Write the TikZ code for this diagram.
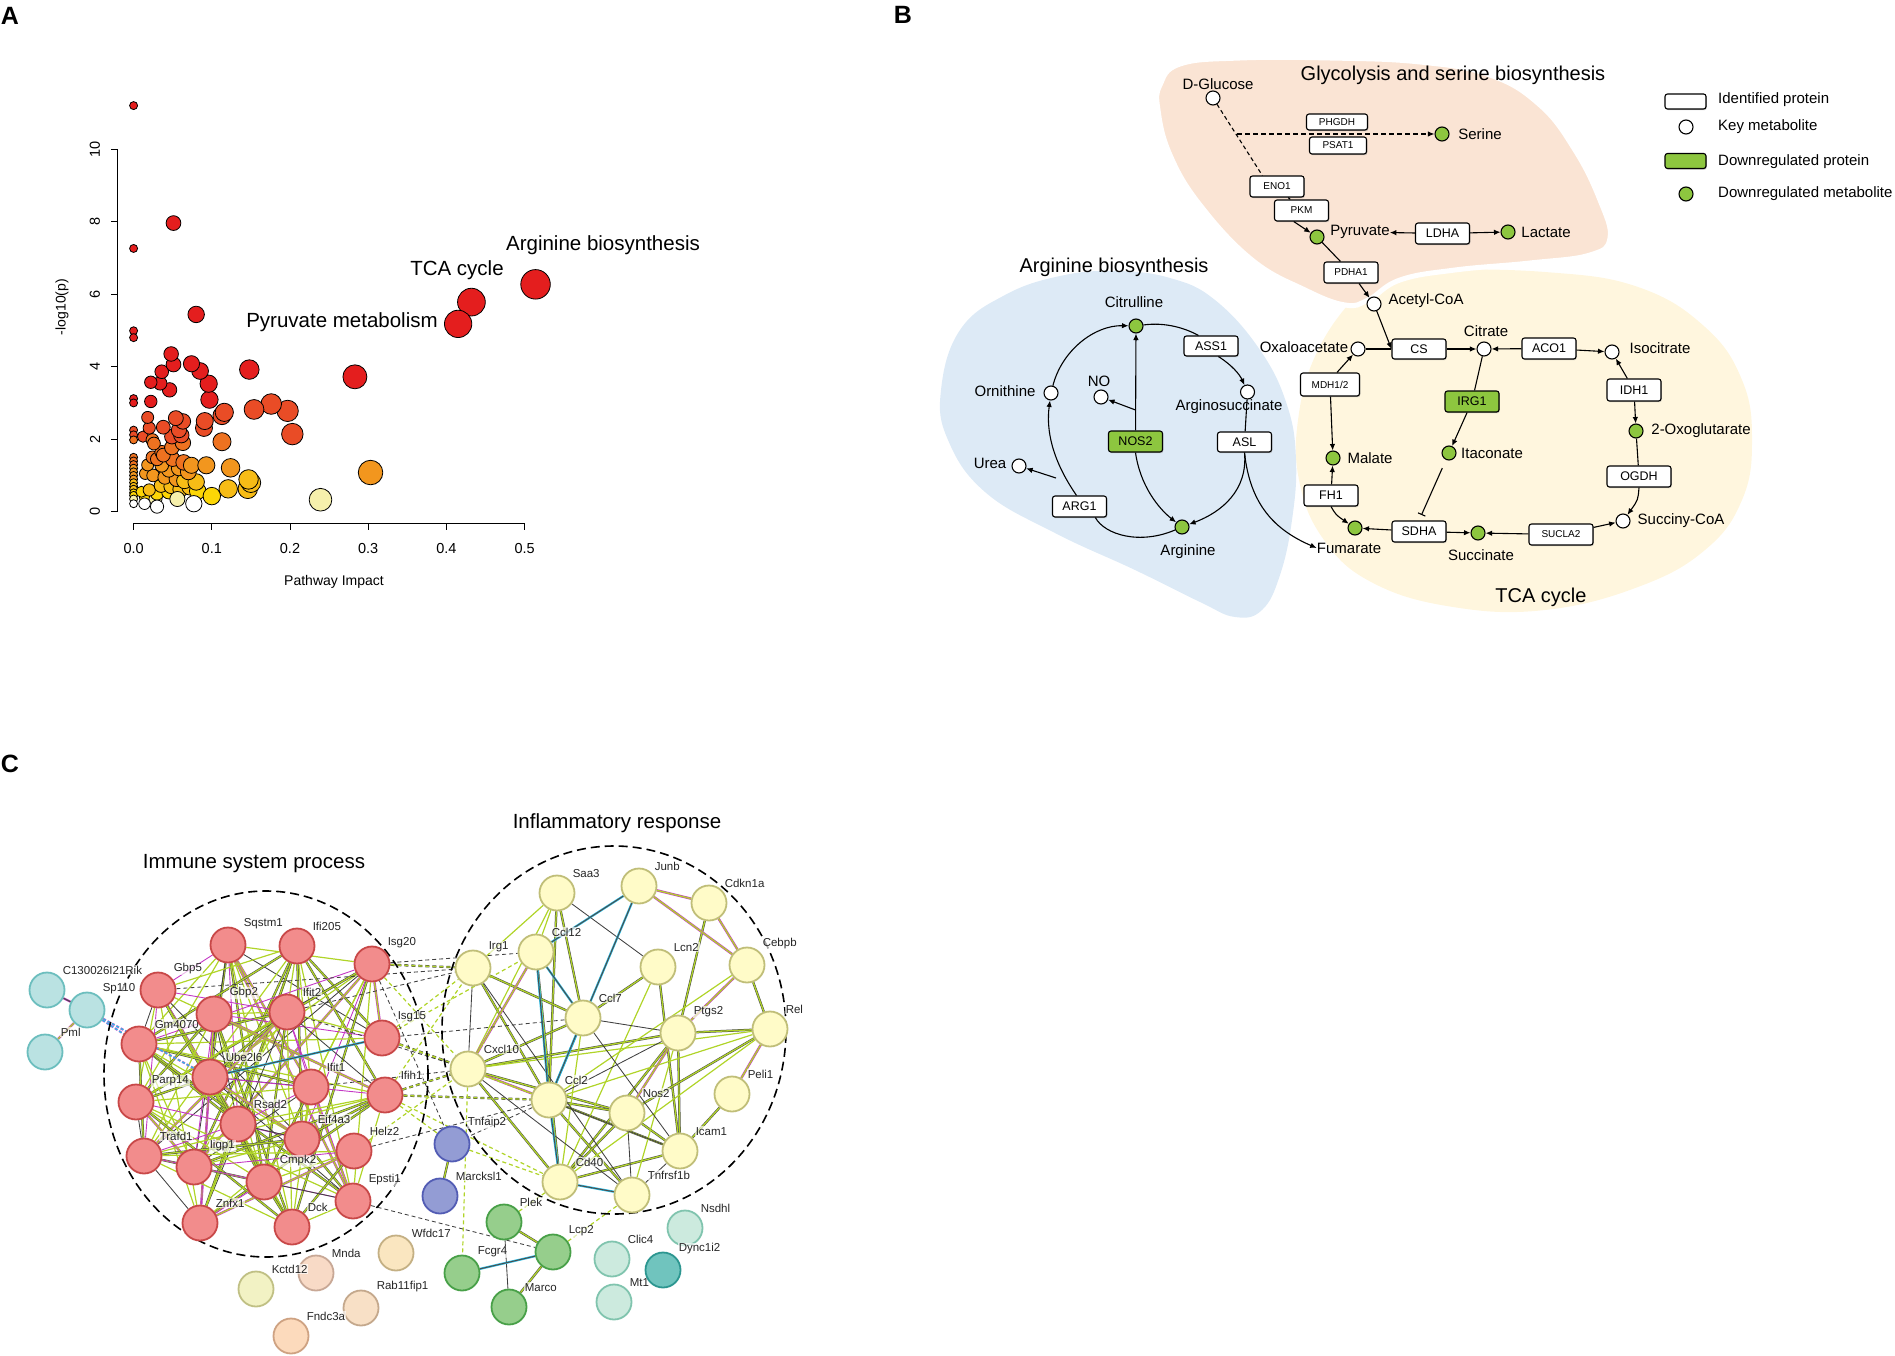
\documentclass[tikz,border=0pt]{standalone}
\usepackage{fontspec}
\setmainfont{Liberation Sans}
\usetikzlibrary{arrows.meta,shadows}

\definecolor{sA0}{RGB}{228,30,30}
\definecolor{sA1}{RGB}{233,76,38}
\definecolor{sA2}{RGB}{238,114,32}
\definecolor{sA3}{RGB}{242,150,30}
\definecolor{sA4}{RGB}{247,188,22}
\definecolor{sA5}{RGB}{252,214,6}
\definecolor{sA6}{RGB}{246,240,172}
\definecolor{sA7}{RGB}{255,255,255}
\definecolor{peachbg}{RGB}{250,228,212}
\definecolor{bluebg}{RGB}{221,234,246}
\definecolor{yellowbg}{RGB}{255,246,222}
\definecolor{dgreen}{RGB}{141,198,63}
\definecolor{cRedF}{RGB}{242,140,140}
\definecolor{cRedD}{RGB}{200,72,72}
\definecolor{cYelF}{RGB}{255,251,200}
\definecolor{cYelD}{RGB}{192,190,120}
\definecolor{cBluF}{RGB}{147,156,212}
\definecolor{cBluD}{RGB}{82,92,180}
\definecolor{cGrnF}{RGB}{150,206,140}
\definecolor{cGrnD}{RGB}{72,160,72}
\definecolor{cTealF}{RGB}{186,226,226}
\definecolor{cTealD}{RGB}{108,190,190}
\definecolor{cMintF}{RGB}{204,234,222}
\definecolor{cMintD}{RGB}{128,196,174}
\definecolor{cDynF}{RGB}{112,196,190}
\definecolor{cDynD}{RGB}{44,150,144}
\definecolor{cKctF}{RGB}{242,242,196}
\definecolor{cKctD}{RGB}{192,192,132}
\definecolor{cMndF}{RGB}{248,218,198}
\definecolor{cMndD}{RGB}{200,168,150}
\definecolor{cRabF}{RGB}{248,224,198}
\definecolor{cRabD}{RGB}{196,168,140}
\definecolor{cFndF}{RGB}{252,218,188}
\definecolor{cFndD}{RGB}{206,162,130}
\definecolor{cWfdF}{RGB}{250,230,192}
\definecolor{cWfdD}{RGB}{196,176,132}
\definecolor{strlime}{RGB}{176,212,40}
\definecolor{strmag}{RGB}{196,56,196}
\definecolor{strcyan}{RGB}{40,190,230}

\pgfdeclarelayer{bg}
\pgfsetlayers{bg,main}
\newcommand\fsz[1]{\fontsize{#1}{#1}\selectfont}
\newcommand\redlist{sqstm1,ifi205,isg20,gbp5,gm4070,gbp2,ifit2,isg15,ube2l6,ifit1,ifih1,parp14,rsad2,eif4a3,helz2,trafd1,iigp1,cmpk2,epsti1,znfx1,dck}

\tikzset{
	letter/.style={font=\fsz{25}\bfseries,inner sep=0pt},
	dot/.style={circle,draw=black,line width=0.8pt,inner sep=0pt},
	axis/.style={line width=1pt},
	ticklab/.style={font=\fsz{14.5},inner sep=0pt},
	plab/.style={font=\fsz{20.5},inner sep=0pt},
	ptitle/.style={font=\fsz{20},inner sep=0pt},
	mlab/.style={font=\fsz{15},inner sep=0pt},
	met/.style={circle,draw,line width=1.1pt,fill=white,minimum size=14pt,inner sep=0pt},
	dmet/.style={met,fill=dgreen},
	pbox/.style={draw,rounded corners=2.5pt,line width=1.1pt,fill=white,minimum width=54pt,minimum height=21pt,inner sep=1pt,font=\fsz{12.5},drop shadow={shadow xshift=0.8pt,shadow yshift=-1.2pt,fill=black!45}},
	sbox/.style={pbox,font=\fsz{10}},
	gbox/.style={pbox,fill=dgreen},
	arr/.style={line width=1.1pt,-{Latex[length=6.5pt,width=5.5pt]}},
	lnk/.style={line width=1.1pt},
	gnode/.style={circle,minimum size=35pt,inner sep=0pt,line width=1.8pt},
	nRed/.style={gnode,fill=cRedF,draw=cRedD},
	nYel/.style={gnode,fill=cYelF,draw=cYelD},
	nBlu/.style={gnode,fill=cBluF,draw=cBluD},
	nGrn/.style={gnode,fill=cGrnF,draw=cGrnD},
	nTeal/.style={gnode,fill=cTealF,draw=cTealD},
	nMint/.style={gnode,fill=cMintF,draw=cMintD},
	nDyn/.style={gnode,fill=cDynF,draw=cDynD},
	glab/.style={font=\fsz{11.5},text=black!85,inner sep=0.8pt,fill=white,fill opacity=0.65,text opacity=1},
	gl/.style={label={[glab,label distance=2.5pt]45:#1}},
	grp/.style={line width=1.6pt,dash pattern=on 9pt off 5pt},
	eT/.style={draw=black!72,double=strlime,double distance=1.3pt,line width=0.5pt},
	eL/.style={draw=strlime,line width=1.2pt},
	eG/.style={draw=black!75,line width=0.85pt},
	eMs/.style={draw=strmag,line width=0.9pt},
	eM/.style={draw=strmag,double=strlime,double distance=1.3pt,line width=0.55pt},
	eC/.style={draw=strcyan,double=black!70,double distance=1pt,line width=0.6pt},
	dE/.style={eT,dash pattern=on 4pt off 3pt},
	dY/.style={eL,dash pattern=on 4pt off 3pt},
	dG/.style={eG,dash pattern=on 4pt off 3pt},
	dMC/.style={draw=strmag!85,double=strcyan,double distance=1.2pt,line width=0.5pt,dash pattern=on 3pt off 2pt}
}

\begin{document}
\begin{tikzpicture}[x=1pt,y=-1pt]
	\useasboundingbox (0,0) rectangle (1895,1356);

	% ---------- A: pathway impact plot
	\node[letter] (la) at (10,16) {A};
	\draw[axis] (117,511.7) -- (117,149);
	\foreach \v in {0,2,...,10}{
		\draw[axis] (117,511.7-36.26*\v) -- (111,511.7-36.26*\v);
		\node[ticklab,rotate=90] (yt\v) at (95,511.7-36.26*\v) {\v};
	}
	\draw[axis] (133.6,523.4) -- (524.7,523.4);
	\foreach \v [count=\i from 0] in {0.0,0.1,0.2,0.3,0.4,0.5}{
		\draw[axis] (133.6+782*\v,523.4) -- (133.6+782*\v,530);
		\node[ticklab] (xt\i) at (133.6+782*\v,549) {\v};
	}
	\node[font=\fsz{14}] (xtit) at (334,582) {Pathway Impact};
	\node[font=\fsz{14},rotate=90] (ytit) at (62,307) {-log10(p)};
	\foreach \px/\py in {0/11.2,0/7.26,0/4.99,0/4.8,0/3.12,0/3.0,0/2.25,0/2.12,0/1.98,0/1.5,0/1.4,0/1.3,0/1.2,0/1.1,0/1.0,0/0.9,0/0.8,0/0.7,0/0.62,0/0.52,0/0.45,0/0.35,0/0.22,
		0.015/0.4,0.028/0.35,0.010/0.55,0.030/0.5,0.045/0.55,0.020/0.6,0.035/0.72,0.048/0.7,0.060/0.62,0.072/0.68,0.082/0.57,0.100/0.43,0.121/0.63,0.146/0.63,0.150/0.8,0.147/0.89,
		0.015/1.05,0.025/1.0,0.040/0.95,0.055/0.9,0.065/0.85,0.080/0.82,0.045/1.15,0.058/1.2,0.070/1.1,0.018/1.29,0.036/1.28,0.024/1.5,0.030/1.45,0.050/1.45,0.064/1.36,0.074/1.28,0.093/1.28,0.124/1.21,0.036/1.64,0.038/1.56,0.303/1.08,
		0.012/2.07,0.024/1.98,0.026/1.88,0.049/1.77,0.063/1.9,0.049/2.07,0.061/2.11,0.058/2.25,0.063/2.49,0.054/2.58,0.038/2.33,0.020/2.31,0.018/2.6,0.090/2.31,0.091/2.5,0.113/1.93,0.113/2.65,0.116/2.74,0.203/2.14,0.197/2.78,0.176/2.97,0.154/2.82,
		0.022/3.04,0.046/3.36,0.034/3.54,0.022/3.57,0.036/3.86,0.097/3.09,0.096/3.53,0.085/3.88,0.074/4.08,0.051/4.06,0.048/4.35,0.148/3.92,0.283/3.72,0.080/5.44,0.051/7.96,
		0.056/0.35,0.077/0.22,0.030/0.14,0.014/0.22,0.239/0.33,
		0.432/5.78,0.415/5.18,0.514/6.27}{
		\pgfmathsetmacro\dd{8+30*sqrt(\px)}
		\pgfmathtruncatemacro\ci{\py>2.99 ? 0 : (\py>1.99 ? 1 : (\py>1.29 ? 2 : (\py>0.89 ? 3 : (\py>0.59 ? 4 : (\py>0.37 ? 5 : (\py>0.27 ? 6 : 7))))))}
		\node[dot,fill=sA\ci,minimum size=\dd pt] (p) at (133.6+782*\px,511.7-36.26*\py) {};
	}
	\node[plab] (tA1) at (603,245) {Arginine biosynthesis};
	\node[plab] (tA2) at (457,270) {TCA cycle};
	\node[plab] (tA3) at (342,322) {Pyruvate metabolism};

	% ---------- B: pathway map
	\node[letter] (lb) at (903,15) {B};
	\fill[yellowbg] plot[smooth cycle,tension=0.7] coordinates {(1385,277) (1422,270) (1545,272) (1638,287) (1705,327) (1742,380) (1752,440) (1742,500) (1705,550) (1638,587) (1545,610) (1453,607) (1373,583) (1324,540) (1299,480) (1299,413) (1318,350) (1355,297)};
	\fill[bluebg] plot[smooth cycle,tension=0.7] coordinates {(1115,271) (1170,278) (1215,300) (1260,350) (1287,405) (1296,460) (1292,520) (1280,575) (1262,610) (1235,617) (1200,602) (1135,570) (1055,533) (985,492) (948,440) (941,390) (960,330) (1005,295) (1060,276)};
	\filldraw[fill=peachbg,draw=white,line width=5pt] plot[smooth cycle,tension=0.7] coordinates {(1160,85) (1180,64) (1240,58) (1330,58) (1420,62) (1490,75) (1540,105) (1575,150) (1600,200) (1610,238) (1590,255) (1530,263) (1455,270) (1400,280) (1368,300) (1345,305) (1305,290) (1252,260) (1200,205) (1170,155) (1158,110)};
	\node[ptitle] (tB1) at (1453,75) {Glycolysis and serine biosynthesis};
	\node[ptitle] (tB2) at (1114,267) {Arginine biosynthesis};
	\node[ptitle] (tB3) at (1541,597) {TCA cycle};

	% glycolysis
	\node[met] (glc) at (1213,98) {};
	\node[mlab] (glct) at (1218,84) {D-Glucose};
	\node[sbox,minimum width=61pt,minimum height=16pt] (phgdh) at (1337,122) {PHGDH};
	\node[sbox,minimum width=57pt,minimum height=17pt] (psat1) at (1338,145.5) {PSAT1};
	\node[dmet] (ser) at (1442,134) {};
	\node[mlab] (sert) at (1480,134) {Serine};
	\node[sbox] (eno1) at (1277,186.5) {ENO1};
	\node[sbox] (pkm) at (1301.5,210.5) {PKM};
	\node[dmet] (pyr) at (1317,237) {};
	\node[mlab] (pyrt) at (1360,232) {Pyruvate};
	\node[pbox] (ldha) at (1442.5,233.5) {LDHA};
	\node[dmet] (lac) at (1508,232) {};
	\node[mlab] (lact) at (1546,232) {Lactate};
	\node[sbox] (pdha1) at (1351,272.5) {PDHA1};
	\node[met] (acoa) at (1374,304) {};
	\node[mlab] (acoat) at (1426,301) {Acetyl-CoA};
	% arginine
	\node[dmet] (cit) at (1136,326) {};
	\node[mlab] (citt) at (1134,302) {Citrulline};
	\node[pbox,minimum height=20pt] (ass1) at (1211,346) {ASS1};
	\node[met] (asu) at (1247.5,392) {};
	\node[mlab] (asut) at (1229,407) {Arginosuccinate};
	\node[pbox,minimum height=20pt] (asl) at (1244.5,442) {ASL};
	\node[gbox] (nos2) at (1135.5,441.5) {NOS2};
	\node[met] (no) at (1101,397) {};
	\node[mlab] (not) at (1099,381) {NO};
	\node[dmet] (arg) at (1182,527) {};
	\node[mlab] (argt) at (1188,552) {Arginine};
	\node[met] (orn) at (1051,393) {};
	\node[mlab] (ornt) at (1005,391) {Ornithine};
	\node[met] (urea) at (1019,466) {};
	\node[mlab] (ureat) at (990,463) {Urea};
	\node[pbox] (arg1) at (1079.5,506.5) {ARG1};
	% tca
	\node[met] (oaa) at (1358,349) {};
	\node[mlab] (oaat) at (1304,347) {Oxaloacetate};
	\node[pbox,minimum height=20pt] (cs) at (1419,349) {CS};
	\node[met] (citr) at (1484,349) {};
	\node[mlab] (citrt) at (1486,331) {Citrate};
	\node[pbox] (aco1) at (1549,348.5) {ACO1};
	\node[met] (icit) at (1612,352) {};
	\node[mlab] (icitt) at (1660,348) {Isocitrate};
	\node[pbox,minimum height=22pt] (idh1) at (1634,390) {IDH1};
	\node[dmet] (oxo) at (1636,431) {};
	\node[mlab] (oxot) at (1701,431) {2-Oxoglutarate};
	\node[pbox,minimum width=64pt] (ogdh) at (1639,476.5) {OGDH};
	\node[met] (scoa) at (1623,521) {};
	\node[mlab] (scoat) at (1681,521) {Succiny-CoA};
	\node[sbox,minimum width=64pt] (sucla2) at (1561,534.5) {SUCLA2};
	\node[dmet] (suc) at (1478,533) {};
	\node[mlab] (suct) at (1481,555) {Succinate};
	\node[pbox] (sdha) at (1419,531.5) {SDHA};
	\node[dmet] (fum) at (1355,528) {};
	\node[mlab] (fumt) at (1349,548) {Fumarate};
	\node[pbox] (fh1) at (1331,495.5) {FH1};
	\node[dmet] (mal) at (1333,458) {};
	\node[mlab] (malt) at (1370,458) {Malate};
	\node[sbox,minimum width=59pt,minimum height=23pt] (mdh) at (1330,384.5) {MDH1/2};
	\node[gbox] (irg1b) at (1472,401.5) {IRG1};
	\node[dmet] (ita) at (1449,453) {};
	\node[mlab] (itat) at (1492,453) {Itaconate};

	\draw[lnk,dash pattern=on 4pt off 3pt] (glc) -- (eno1.143);
	\coordinate (sbr) at (1237,134);
	\draw[arr,dash pattern=on 5pt off 3pt] (sbr) -- (ser);
	\draw[lnk] (eno1) -- (pkm);
	\draw[arr] (pkm.235) -- (pyr);
	\draw[arr] (ldha) -- (pyrt);
	\draw[arr] (ldha) -- (lac);
	\draw[lnk] (pyr) -- (pdha1);
	\draw[arr] (pdha1) -- (acoa);
	\draw[lnk] (cit) .. controls (1165,322) and (1185,328) .. (ass1.140);
	\draw[arr] (ass1.-55) .. controls (1232,365) and (1240,375) .. (asu);
	\draw[lnk] (asu) -- (asl);
	\draw[arr] (asl.south) .. controls (1248,490) and (1222,512) .. (arg);
	\draw[arr] (asl.south) .. controls (1250,505) and (1275,530) .. (fumt.west);
	\draw[arr] (nos2) -- (cit);
	\coordinate (nob) at (1135.5,410);
	\draw[arr] (nob) -- (no);
	\draw[arr] (nos2.south) .. controls (1140,485) and (1158,508) .. (arg);
	\draw[lnk] (arg) .. controls (1140,545) and (1105,535) .. (arg1.-35);
	\draw[arr] (arg1.105) .. controls (1052,460) and (1046,430) .. (orn);
	\coordinate (ureb) at (1056,478);
	\draw[arr] (ureb) -- (urea);
	\draw[arr] (orn) .. controls (1062,350) and (1095,325) .. (cit);
	\draw[arr] (acoa) -- (cs.west);
	\draw[lnk] (oaa) -- (cs);
	\draw[arr] (cs) -- (citr);
	\draw[arr] (aco1) -- (citr);
	\draw[arr] (aco1) -- (icit);
	\draw[arr] (idh1) -- (icit);
	\draw[arr] (idh1) -- (oxo);
	\draw[lnk] (oxo) -- (ogdh);
	\draw[arr] (ogdh.south) .. controls (1638,500) .. (scoa);
	\draw[arr] (sucla2) -- (scoa);
	\draw[arr] (sucla2) -- (suc);
	\draw[arr] (sdha) -- (suc);
	\draw[arr] (sdha) -- (fum);
	\draw[arr] (fh1) -- (mal);
	\draw[arr] (fh1.south) .. controls (1336,515) .. (fum);
	\draw[arr] (mdh) -- (mal);
	\draw[arr] (mdh.60) -- (oaa);
	\draw[lnk] (citr) -- (irg1b);
	\draw[arr] (irg1b) -- (ita);
	\draw[lnk,-{Bar[width=8pt]},shorten <=9pt,shorten >=6pt] (ita) -- (sdha.north);

	% legend
	\node[pbox,minimum width=41pt,minimum height=15pt] (lg1) at (1685.5,101.5) {};
	\node[met] (lg2) at (1686,127) {};
	\node[gbox,minimum width=41pt,minimum height=15pt] (lg3) at (1685.5,161) {};
	\node[dmet] (lg4) at (1686,194) {};
	\node[mlab,anchor=west] (lgt1) at (1718,100) {Identified protein};
	\node[mlab,anchor=west] (lgt2) at (1718,127) {Key metabolite};
	\node[mlab,anchor=west] (lgt3) at (1718,162) {Downregulated protein};
	\node[mlab,anchor=west] (lgt4) at (1718,194) {Downregulated metabolite};

	% ---------- C: interaction network
	\node[letter] (lc) at (10,764) {C};
	\node[plab] (tC1) at (254,864) {Immune system process};
	\node[plab] (tC2) at (617,823) {Inflammatory response};
	\foreach \n/\x/\y/\t in {sqstm1/228/945/Sqstm1, ifi205/297/946/Ifi205, isg20/372/964/Isg20, gbp5/158/990/Gbp5, gm4070/139/1044/Gm4070, gbp2/214/1014/Gbp2, ifit2/287/1012/Ifit2, isg15/382/1038/Isg15, ube2l6/210/1077/Ube2l6, ifit1/311/1087/Ifit1, ifih1/385/1095/Ifih1, parp14/136/1102/Parp14, rsad2/238/1124/Rsad2, eif4a3/302/1139/Eif4a3, helz2/354/1151/Helz2, trafd1/144/1156/Trafd1, iigp1/194/1167/Iigp1, cmpk2/264/1182/Cmpk2, epsti1/353/1201/Epsti1, znfx1/200/1223/Znfx1, dck/292/1227/Dck}
		\node[nRed,gl=\t] (\n) at (\x,\y) {};
	\foreach \n/\x/\y/\t in {saa3/557/893/Saa3, junb/639/886/Junb, cdkn1a/709/903/Cdkn1a, irg1/473/968/Irg1, ccl12/536/952/Ccl12, lcn2/658/967/Lcn2, cebpb/747/965/Cebpb, ccl7/583/1018/Ccl7, ptgs2/678/1033/Ptgs2, rel/770/1029/Rel, cxcl10/468/1069/Cxcl10, ccl2/549/1100/Ccl2, peli1/732/1094/Peli1, nos2c/627/1113/Nos2, icam1/680/1151/Icam1, cd40/560/1182/Cd40, tnfrsf1b/632/1195/Tnfrsf1b}
		\node[nYel,gl=\t] (\n) at (\x,\y) {};
	\foreach \n/\x/\y/\t in {c13/47/990/C130026I21Rik, sp110/87/1010/Sp110, pml/45/1052/Pml}
		\node[nTeal,gl=\t] (\n) at (\x,\y) {};
	\node[nBlu,gl=Tnfaip2] (tnfaip2) at (452,1144) {};
	\node[nBlu,gl=Marcksl1] (marcksl1) at (440,1196) {};
	\foreach \n/\x/\y/\t in {plek/504/1222/Plek, lcp2/553/1252/Lcp2, fcgr4/462/1273/Fcgr4, marco/509/1307/Marco}
		\node[nGrn,gl=\t] (\n) at (\x,\y) {};
	\node[nMint,gl=Nsdhl] (nsdhl) at (685,1228) {};
	\node[nMint,gl=Clic4] (clic4) at (612,1259) {};
	\node[nMint,gl=Mt1] (mt1) at (614,1302) {};
	\node[nDyn,gl=Dync1i2] (dync1i2) at (663,1270) {};
	\node[gnode,fill=cWfdF,draw=cWfdD,gl=Wfdc17] (wfdc17) at (396,1253) {};
	\node[gnode,fill=cMndF,draw=cMndD,gl=Mnda] (mnda) at (316,1273) {};
	\node[gnode,fill=cKctF,draw=cKctD,gl=Kctd12] (kctd12) at (256,1289) {};
	\node[gnode,fill=cRabF,draw=cRabD,gl=Rab11fip1] (rab11fip1) at (361,1308) {};
	\node[gnode,fill=cFndF,draw=cFndD,gl=Fndc3a] (fndc3a) at (291,1336) {};

	\begin{pgfonlayer}{bg}
		\foreach \a [count=\i] in \redlist {
			\foreach \b [count=\j] in \redlist {
				\ifnum\j>\i
					\pgfmathtruncatemacro\k{mod(\i*\j+3*\i+\j,9)}
					\ifcase\k \draw[eL] (\a) -- (\b); \or \draw[eG] (\a) -- (\b); \or \draw[eMs] (\a) -- (\b); \or \draw[eT] (\a) -- (\b); \or \draw[eL] (\a) -- (\b); \or \draw[eM] (\a) -- (\b); \fi
				\fi
			}
		}
		\draw[eC] (ube2l6) -- (isg15);
		\foreach \a/\b in {saa3/ccl7, saa3/ccl2, ccl12/cd40, irg1/ccl7, irg1/ccl2, lcn2/ccl7, lcn2/icam1, cebpb/rel, ccl7/cxcl10, ptgs2/rel, ptgs2/cxcl10, ptgs2/icam1, ptgs2/cd40, rel/nos2c, cxcl10/nos2c, cxcl10/cd40, ccl2/nos2c, ccl2/icam1, nos2c/icam1, peli1/icam1, icam1/cd40, cdkn1a/ptgs2, ccl2/tnfrsf1b, nos2c/cd40, plek/lcp2, lcp2/marco, tnfaip2/marcksl1}
			\draw[eT] (\a) -- (\b);
		\foreach \a/\b in {saa3/irg1, saa3/ccl12, saa3/cxcl10, rel/cxcl10, rel/ccl2, ccl7/cd40, cebpb/ccl2, rel/cd40, ptgs2/tnfrsf1b, lcn2/cd40}
			\draw[eL] (\a) -- (\b);
		\foreach \a/\b in {saa3/lcn2, irg1/cxcl10, irg1/tnfrsf1b, ccl7/ptgs2, ccl7/icam1, cxcl10/icam1, cxcl10/tnfrsf1b, ptgs2/ccl2, icam1/tnfrsf1b, nos2c/tnfrsf1b, plek/marco}
			\draw[eG] (\a) -- (\b);
		\foreach \a/\b in {junb/cdkn1a, junb/cebpb, cdkn1a/cebpb, ccl12/cxcl10, cebpb/ptgs2, rel/peli1, cxcl10/ccl2, ptgs2/nos2c, sp110/pml}
			\draw[eM] (\a) -- (\b);
		\foreach \a/\b in {junb/ccl2, junb/ccl12, ccl12/ccl7, ccl12/ccl2, ccl7/ccl2, cd40/tnfrsf1b, ccl2/cd40, fcgr4/lcp2}
			\draw[eC] (\a) -- (\b);
		\draw[draw=strmag,double=black!70,double distance=1pt,line width=0.6pt] (c13) -- (sp110);
		\foreach \a/\b in {isg20/irg1, isg15/cxcl10, ifih1/cxcl10, ifih1/ccl2}
			\draw[dE] (\a) -- (\b);
		\foreach \a/\b in {isg20/cxcl10, isg15/irg1, isg15/ccl12, helz2/cxcl10, ifih1/irg1, isg15/ccl2, ifih1/cd40, ifih1/tnfaip2, cxcl10/fcgr4, tnfaip2/cd40, plek/cd40, lcp2/tnfrsf1b}
			\draw[dY] (\a) -- (\b);
		\foreach \a/\b in {isg20/ccl12, isg15/ccl7, ifit1/cxcl10, ifit2/irg1, gbp5/irg1, ifit2/cxcl10, helz2/ccl2, isg20/tnfaip2, ccl2/tnfaip2, epsti1/lcp2}
			\draw[dG] (\a) -- (\b);
		\draw[dMC] (sp110) -- (ube2l6);
		\draw[dMC] (sp110) -- (gm4070);
		% group outlines
		\draw[grp] (266,1074) ellipse [x radius=162pt,y radius=183pt];
		\draw[grp] (614,1030) ellipse [x radius=172pt,y radius=184pt];
	\end{pgfonlayer}
\end{tikzpicture}
\end{document}
